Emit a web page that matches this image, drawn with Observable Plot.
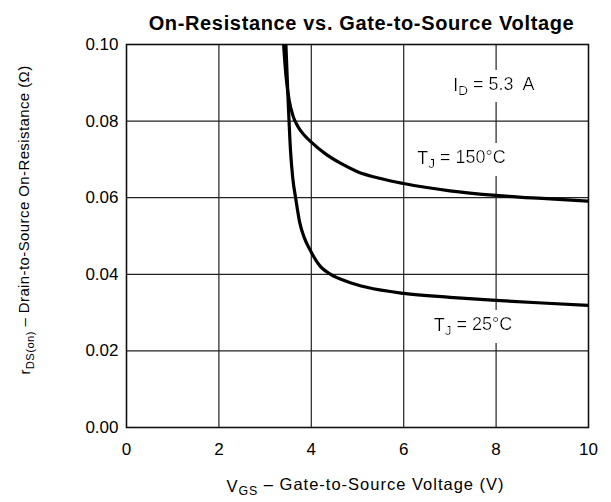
<!DOCTYPE html>
<html><head><meta charset="utf-8">
<script src="https://cdn.jsdelivr.net/npm/d3@7"></script>
<script src="https://cdn.jsdelivr.net/npm/@observablehq/plot@0.6"></script>
<style>
body{margin:0;background:#fff}
svg{font-family:"Liberation Sans",Arial,Helvetica,sans-serif}
</style>
</head><body><div id="chart"></div>
<script>
// T_J = 150 °C
const vgs150 = [3.40, 3.45, 3.52, 3.60, 3.70, 3.85, 4.00, 4.30, 4.63, 5.00, 5.50, 6.00, 7.00, 8.00, 9.00, 10.0];
const rds150 = [0.100, 0.092, 0.0855, 0.0815, 0.0788, 0.0763, 0.0745, 0.0715, 0.0690, 0.0668, 0.0650, 0.0637, 0.0618, 0.0606, 0.0598, 0.0591];
// T_J = 25 °C
const vgs25 = [3.45, 3.50, 3.55, 3.60, 3.66, 3.75, 3.85, 3.98, 4.20, 4.42, 4.80, 5.20, 6.00, 7.00, 8.00, 9.00, 10.0];
const rds25 = [0.100, 0.085, 0.0723, 0.065, 0.060, 0.0535, 0.0495, 0.0462, 0.0420, 0.0400, 0.0380, 0.0366, 0.0350, 0.0340, 0.0332, 0.0325, 0.0319];

const xTicks = [0, 2, 4, 6, 8, 10];
const yTicks = [0, 0.02, 0.04, 0.06, 0.08, 0.10];

const titleText = "On-Resistance vs. Gate-to-Source Voltage";
const xLabel = "V{GS} – Gate-to-Source Voltage (V)";
const yLabel = "r{DS(on)} – Drain-to-Source On-Resistance (Ω)";

const annX = [7.95, 7.25, 7.5];
const annY = [0.0893, 0.0702, 0.0266];
const annText = ["I{D} = 5.3  A", "T{J} = 150°C", "T{J} = 25°C"];

const plot = Plot.plot({
  width: 611,
  height: 502,
  marginTop: 44,
  marginBottom: 75,
  marginLeft: 126,
  marginRight: 23,
  style: {fontFamily: '"Liberation Sans", Arial, sans-serif', background: "#fff"},
  x: {domain: [0, 10]},
  y: {domain: [0, 0.10]},
  marks: [
    Plot.gridX(xTicks.slice(1, -1), {stroke: "#222", strokeOpacity: 1, strokeWidth: 1.2}),
    Plot.gridY(yTicks.slice(1, -1), {stroke: "#222", strokeOpacity: 1, strokeWidth: 1.2}),
    Plot.frame({stroke: "#111", strokeWidth: 1.6}),
    Plot.axisX({ticks: xTicks, tickSize: 0, tickPadding: 15, tickFormat: d => String(d), fontSize: 17, label: null}),
    Plot.axisY({ticks: yTicks, tickSize: 0, tickPadding: 8, tickFormat: d => d.toFixed(2), fontSize: 17, label: null}),
    Plot.line(vgs150, {x: vgs150, y: rds150, stroke: "#000", strokeWidth: 3.2, curve: "monotone-x", clip: true}),
    Plot.line(vgs25, {x: vgs25, y: rds25, stroke: "#000", strokeWidth: 3.2, curve: "monotone-x", clip: true}),
    Plot.text(annText, {x: annX, y: annY, text: d => d, fontSize: 18, fill: "#000", className: "sub-text ann"}),
    Plot.text([titleText], {frameAnchor: "top", dy: -29, dx: 4, text: d => d, fontSize: 20, fontWeight: "bold", fill: "#000", className: "title"}),
    Plot.text([xLabel], {frameAnchor: "bottom", dx: 8, dy: 64, text: d => d, fontSize: 16.5, fill: "#000", className: "sub-text xlab"}),
    Plot.text([yLabel], {frameAnchor: "left", textAnchor: "middle", dx: -101, dy: -16, rotate: -90, text: d => d, fontSize: 15, fill: "#000", className: "sub-text ylab"})
  ]
});

const svg = d3.select(plot);
// white box behind annotation labels (interrupts grid lines as in the reference)
const f = svg.insert("defs", ":first-child").append("filter")
  .attr("id", "ann-bg").attr("x", "-0.06").attr("y", "-0.15").attr("width", "1.12").attr("height", "1.3");
f.append("feFlood").attr("flood-color", "#fff");
const m = f.append("feMerge");
m.append("feMergeNode");
m.append("feMergeNode").attr("in", "SourceGraphic");
svg.selectAll(".ann text").attr("filter", "url(#ann-bg)");

svg.selectAll(".xlab text").attr("letter-spacing", "1px");
svg.selectAll(".ylab text").attr("letter-spacing", "0.4px");
svg.selectAll(".title text").attr("letter-spacing", "0.65px");

// Convert {…} segments into subscripts
svg.selectAll(".sub-text text").each(function() {
  const el = d3.select(this);
  const s = this.textContent;
  if (!s.includes("{")) return;
  el.text(null);
  const parts = s.split(/(\{[^}]*\})/).filter(p => p.length);
  let shifted = false;
  for (const p of parts) {
    if (p.startsWith("{")) {
      el.append("tspan").attr("dy", "0.3em").attr("font-size", "75%").text(p.slice(1, -1));
      shifted = true;
    } else {
      const t = el.append("tspan").text(p);
      if (shifted) { t.attr("dy", "-0.3em"); shifted = false; }
    }
  }
});

document.getElementById("chart").appendChild(plot);
</script>
</body></html>
